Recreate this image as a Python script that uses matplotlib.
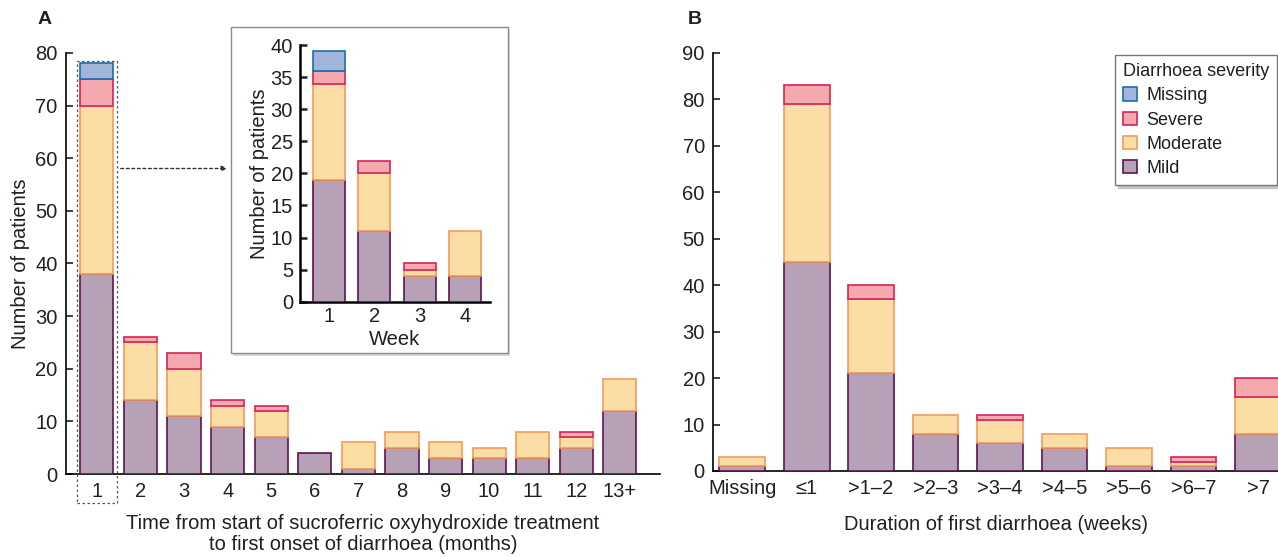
import matplotlib
matplotlib.use('Agg')
import matplotlib.pyplot as plt
import numpy as np
from matplotlib.patches import Rectangle, FancyArrowPatch

plt.rcParams['font.family'] = ['Liberation Sans', 'DejaVu Sans']
plt.rcParams['text.color'] = '#231f20'
plt.rcParams['axes.labelcolor'] = '#231f20'
plt.rcParams['xtick.color'] = '#231f20'
plt.rcParams['ytick.color'] = '#231f20'

# ---- data ----
severity = ['Mild', 'Moderate', 'Severe', 'Missing']

months = ['1', '2', '3', '4', '5', '6', '7', '8', '9', '10', '11', '12', '13+']
month_mild = [38, 14, 11, 9, 7, 4, 1, 5, 3, 3, 3, 5, 12]
month_moderate = [32, 11, 9, 4, 5, 0, 5, 3, 3, 2, 5, 2, 6]
month_severe = [5, 1, 3, 1, 1, 0, 0, 0, 0, 0, 0, 1, 0]
month_missing = [3, 0, 0, 0, 0, 0, 0, 0, 0, 0, 0, 0, 0]

weeks = ['1', '2', '3', '4']
week_mild = [19, 11, 4, 4]
week_moderate = [15, 9, 1, 7]
week_severe = [2, 2, 1, 0]
week_missing = [3, 0, 0, 0]

durations = ['Missing', '≤1', '>1–2', '>2–3', '>3–4', '>4–5', '>5–6', '>6–7', '>7']
dur_mild = [1, 45, 21, 8, 6, 5, 1, 1, 8]
dur_moderate = [2, 34, 16, 4, 5, 3, 4, 1, 8]
dur_severe = [0, 4, 3, 0, 1, 0, 0, 1, 4]
dur_missing = [0, 0, 0, 0, 0, 0, 0, 0, 0]

fills = {'Mild': '#b7a1b6', 'Moderate': '#fbdea5', 'Severe': '#f3a9ae', 'Missing': '#a1b5d9'}
edges = {'Mild': '#5b1550', 'Moderate': '#f59a5a', 'Severe': '#d7225a', 'Missing': '#1b6cb5'}

FS = 14.5


def stacked(ax, labels, series, width, lw=1.2):
    x = np.arange(len(labels))
    bottom = np.zeros(len(labels))
    for name, vals in zip(severity, series):
        vals = np.array(vals, dtype=float)
        mask = vals > 0
        ax.bar(x[mask], vals[mask], width, bottom=bottom[mask], color=fills[name],
               edgecolor=edges[name], linewidth=lw, label=name, zorder=3)
        bottom += vals
    ax.set_xticks(x)
    ax.set_xticklabels(labels)


def style(ax, lw=1.2):
    ax.spines['top'].set_visible(False)
    ax.spines['right'].set_visible(False)
    ax.spines['left'].set_linewidth(lw)
    ax.spines['bottom'].set_linewidth(lw)
    ax.tick_params(axis='y', direction='in', length=5, width=lw, labelsize=FS, pad=6)
    ax.tick_params(axis='x', length=0, labelsize=FS, pad=6)


fig = plt.figure(figsize=(12.78, 5.57), dpi=100)

# ---- panel A ----
axA = fig.add_axes([0.0516, 0.149, 0.4648, 0.756])
stacked(axA, months, [month_mild, month_moderate, month_severe, month_missing], 0.76)
style(axA)
axA.set_xlim(-0.71, 12.92)
axA.set_ylim(0, 80)
axA.set_yticks(range(0, 81, 10))
axA.set_ylabel('Number of patients', fontsize=FS, labelpad=4)
axA.set_xlabel('Time from start of sucroferric oxyhydroxide treatment\nto first onset of diarrhoea (months)',
               fontsize=FS, labelpad=9, linespacing=1.15)

# dotted box around month 1 and arrow to inset
fig.patches.append(Rectangle((77 / 1278, 1 - 503 / 557), 40 / 1278, 442 / 557,
                             transform=fig.transFigure, fill=False, edgecolor='#555555',
                             linestyle=(0, (2, 2)), linewidth=0.9, zorder=1))
fig.patches.append(FancyArrowPatch((118 / 1278, 1 - 168.5 / 557), (230 / 1278, 1 - 168.5 / 557),
                                   transform=fig.transFigure, arrowstyle='-|>', mutation_scale=8,
                                   color='#333333', linestyle=(0, (2, 2)), linewidth=1.0, zorder=1))

# inset frame with shadow
fig.patches.append(Rectangle((233 / 1278, 1 - 356 / 557), 277 / 1278, 326 / 557,
                             transform=fig.transFigure, facecolor='#d9d9d9', edgecolor='none', zorder=1))
fig.patches.append(Rectangle((231 / 1278, 1 - 353 / 557), 277 / 1278, 326 / 557,
                             transform=fig.transFigure, facecolor='white', edgecolor='#8a8a8a',
                             linewidth=1.0, zorder=2))

axI = fig.add_axes([0.2347, 0.4584, 0.1487, 0.4608])
axI.set_zorder(5)
axI.patch.set_alpha(0)
stacked(axI, weeks, [week_mild, week_moderate, week_severe, week_missing], 0.70)
style(axI, lw=1.8)
axI.tick_params(axis='y', pad=5)
axI.tick_params(axis='x', pad=4)
axI.set_xlim(-0.63, 3.54)
axI.set_ylim(0, 40)
axI.set_yticks(range(0, 41, 5))
axI.set_ylabel('Number of patients', fontsize=FS, labelpad=1)
axI.set_xlabel('Week', fontsize=FS, labelpad=3)

# ---- panel B ----
axB = fig.add_axes([0.558, 0.1544, 0.442, 0.7506])
stacked(axB, durations, [dur_mild, dur_moderate, dur_severe, dur_missing], 0.71)
style(axB)
axB.set_xlim(-0.45, 8.31)
axB.set_ylim(0, 90)
axB.set_yticks(range(0, 91, 10))
axB.set_xlabel('Duration of first diarrhoea (weeks)', fontsize=FS, labelpad=12)

handles = [Rectangle((0, 0), 1, 1, facecolor=fills[n], edgecolor=edges[n], linewidth=1.2)
           for n in ['Missing', 'Severe', 'Moderate', 'Mild']]
leg = axB.legend(handles, ['Missing', 'Severe', 'Moderate', 'Mild'], title='Diarrhoea severity',
                 loc='upper right', bbox_to_anchor=(0.999, 0.995), borderaxespad=0,
                 fontsize=13, title_fontsize=13,
                 frameon=True, fancybox=False, shadow={'color': '#c4c4c4', 'alpha': 1},
                 handlelength=0.75, handleheight=0.75, handletextpad=0.55, borderpad=0.45,
                 labelspacing=0.4)
leg.get_frame().set_edgecolor('#777777')
leg.get_frame().set_linewidth(1.0)
leg._legend_box.align = 'left'

fig.text(38 / 1278, 1 - 20 / 557, 'A', fontsize=14, fontweight='bold', va='center')
fig.text(688 / 1278, 1 - 20 / 557, 'B', fontsize=14, fontweight='bold', va='center')

fig.savefig('out.png', dpi=100)
